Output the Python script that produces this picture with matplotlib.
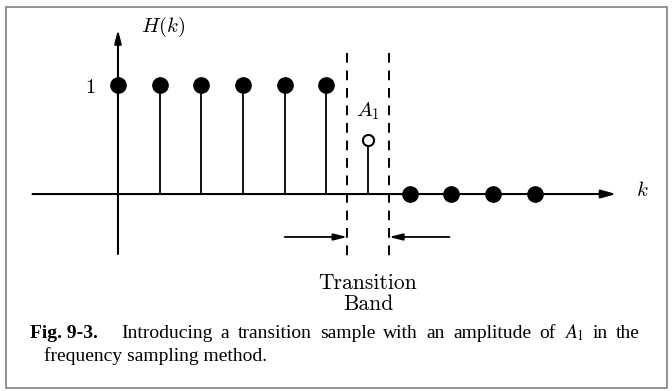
import numpy as np
import matplotlib
matplotlib.use('Agg')
import matplotlib.pyplot as plt
from matplotlib.patches import Rectangle

plt.rcParams['mathtext.fontset'] = 'cm'

# passband samples, transition sample and stopband samples
k_pass = [0, 1, 2, 3, 4, 5]
H_pass = [1, 1, 1, 1, 1, 1]
k_trans = [6]
H_trans = [0.5]
k_stop = [7, 8, 9, 10]
H_stop = [0, 0, 0, 0]
band_edges = [5.5, 6.5]

caption_words = ['Introducing', 'a', 'transition', 'sample', 'with', 'an',
                 'amplitude', 'of', r'$A_1$', 'in', 'the']

W, H = 672, 391
fig = plt.figure(figsize=(W / 100, H / 100), dpi=100)
ax = fig.add_axes([0, 0, 1, 1])
ax.set_xlim(-2.83, 13.29)
ax.set_ylim(-1.807, 1.78)
ax.axis('off')

# outer frame
fig.patches.append(Rectangle((5.5 / W, 1 - 388 / H), 661.5 / W, 381 / H,
                             transform=fig.transFigure, fill=False,
                             edgecolor='#808080', lw=1.2))

# axes with arrows
ax.annotate('', xy=(11.95, 0), xytext=(-2.05, 0),
            arrowprops=dict(arrowstyle='-|>,head_length=0.9,head_width=0.25',
                            color='black', lw=1.5, shrinkA=0, shrinkB=0))
ax.annotate('', xy=(0, 1.51), xytext=(0, -0.55),
            arrowprops=dict(arrowstyle='-|>,head_length=0.8,head_width=0.2',
                            color='black', lw=1.5, shrinkA=0, shrinkB=0))

# stems
ax.vlines(k_pass, 0, H_pass, color='black', lw=1.3)
ax.vlines(k_trans, 0, H_trans, color='black', lw=1.3)
ax.plot(k_pass, H_pass, 'o', color='black', ms=11)
ax.plot(k_stop, H_stop, 'o', color='black', ms=11)
ax.plot(k_trans, H_trans, 'o', mfc='white', mec='black', mew=1.5, ms=8)

# transition band edges
for e in band_edges:
    ax.plot([e, e], [1.29, -0.58], color='black', lw=1.4, ls=(0, (5, 4)))

arrow_y = -0.394
ax.annotate('', xy=(band_edges[0], arrow_y), xytext=(4.0, arrow_y),
            arrowprops=dict(arrowstyle='-|>,head_length=0.8,head_width=0.2',
                            color='black', lw=1.3, shrinkA=0, shrinkB=0))
ax.annotate('', xy=(band_edges[1], arrow_y), xytext=(7.95, arrow_y),
            arrowprops=dict(arrowstyle='-|>,head_length=0.8,head_width=0.2',
                            color='black', lw=1.3, shrinkA=0, shrinkB=0))

# labels
ax.text(1.08, 1.53, r'$H(k)$', fontsize=15, ha='center', va='center')
ax.text(-0.67, 0.98, r'$1$', fontsize=14.5, ha='center', va='center')
ax.text(6.0, 0.757, r'$A_1$', fontsize=15, ha='center', va='center')
ax.text(12.57, 0.04, r'$k$', fontsize=15, ha='center', va='center')
ax.text(6.0, -0.87, 'Transition', family='cmr10', fontsize=15.5,
        ha='center', va='baseline')
ax.text(6.0, -1.065, 'Band', family='cmr10', fontsize=15.5,
        ha='center', va='baseline')

# caption
fig.text(30 / W, 1 - 338 / H, 'Fig. 9-3.', family='Liberation Serif',
         fontsize=14, fontweight='bold', va='baseline')

# first caption line is justified between x0 and x1
x0, x1 = 121, 640
renderer = fig.canvas.get_renderer()
words = []
for w in caption_words:
    t = fig.text(0, 1 - 338 / H, w, family='Liberation Serif', fontsize=14,
                 va='baseline', math_fontfamily='stix')
    words.append(t)
widths = [t.get_window_extent(renderer).width for t in words]
gap = (x1 - x0 - sum(widths)) / (len(words) - 1)
x = x0
for t, wd in zip(words, widths):
    t.set_x(x / W)
    x += wd + gap

fig.text(44 / W, 1 - 361 / H, 'frequency sampling method.',
         family='Liberation Serif', fontsize=14, va='baseline')

fig.savefig('out.png', dpi=100)
